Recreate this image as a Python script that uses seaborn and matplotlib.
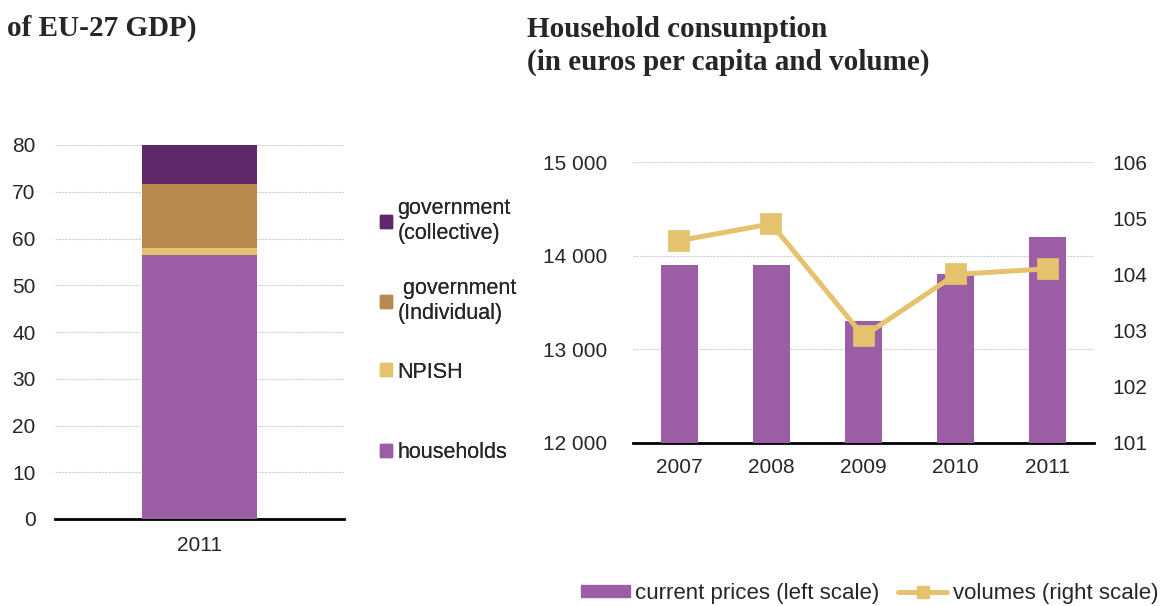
import numpy as np
import pandas as pd
import matplotlib.pyplot as plt
import seaborn as sns
from matplotlib.patches import Patch
from matplotlib.lines import Line2D
from matplotlib.ticker import FuncFormatter

sns.set_style('white')
plt.rcParams['font.family'] = ['Liberation Sans', 'DejaVu Sans']

# left chart: consumption as % of EU-27 GDP, 2011
stack_year = ['2011']
stack_labels = ['households', 'NPISH', ' government\n(Individual)', 'government\n(collective)']
stack_values = [56.5, 1.5, 13.7, 8.3]
stack_colors = ['#9B5EA5', '#E5C36E', '#B8894F', '#5F2868']

# right chart: household consumption
years = ['2007', '2008', '2009', '2010', '2011']
current_prices = [13900, 13900, 13300, 13800, 14200]
volumes = [104.6, 104.9, 102.9, 104.0, 104.1]

purple = '#9B5EA5'
gold = '#E5C36E'
grid_kw = dict(color='#cfcfcf', lw=0.8, linestyle=(0, (2, 1)))
W, H = 1165, 606

fig = plt.figure(figsize=(11.65, 6.06), dpi=100)

# ---- left stacked bar (cumulative totals drawn from the top down)
ax1 = fig.add_axes([55 / W, 1 - 519 / H, 289 / W, 374 / H])
tops = np.cumsum(stack_values)
for i in reversed(range(len(stack_values))):
    sns.barplot(x=stack_year, y=[tops[i]], color=stack_colors[i], width=0.4,
                saturation=1, linewidth=0, ax=ax1, zorder=3)
ax1.set_xlim(-0.5, 0.5)
ax1.set_ylim(0, 80)
ax1.set_yticks(range(0, 81, 10))
ax1.yaxis.grid(True, **grid_kw)
ax1.set_axisbelow(True)
ax1.set_xlabel('')
ax1.set_ylabel('')
for s in ['top', 'left', 'right']:
    ax1.spines[s].set_visible(False)
ax1.spines['bottom'].set_color('black')
ax1.spines['bottom'].set_linewidth(2)
ax1.tick_params(axis='y', length=0, pad=14, labelsize=15)
ax1.tick_params(axis='x', length=0, pad=12, labelsize=15)

# legend entries of the left chart, one block each
legend_y = {3: 221, 2: 301, 1: 372, 0: 453}
for i in [3, 2, 1, 0]:
    lg = fig.legend([Patch(color=stack_colors[i])], [stack_labels[i]],
                    loc='center left', bbox_to_anchor=(380 / W, 1 - legend_y[i] / H),
                    frameon=False, fontsize=15.5, handlelength=0.55, handleheight=0.55,
                    handletextpad=0.25, borderpad=0, borderaxespad=0)
    fig.add_artist(lg)

# ---- right chart: bars + volumes on twin axis
ax2 = fig.add_axes([633 / W, 1 - 443 / H, 461 / W, 281 / H])
sns.barplot(x=years, y=current_prices, color=purple, saturation=1, width=0.4,
            linewidth=0, ax=ax2, zorder=3)
ax2.set_ylim(12000, 15000)
ax2.set_yticks([12000, 13000, 14000, 15000])
ax2.yaxis.set_major_formatter(FuncFormatter(lambda v, p: f'{int(v):,}'.replace(',', ' ')))
ax2.yaxis.grid(True, **grid_kw)
ax2.set_axisbelow(True)
for s in ['top', 'left', 'right']:
    ax2.spines[s].set_visible(False)
ax2.spines['bottom'].set_color('black')
ax2.spines['bottom'].set_linewidth(2)
ax2.tick_params(axis='y', length=0, pad=18.5, labelsize=15)
ax2.tick_params(axis='x', length=0, pad=11, labelsize=15)

ax3 = ax2.twinx()
sns.pointplot(x=years, y=volumes, color=gold, markers='s', markersize=13,
              linewidth=3.6, ax=ax3)
ax3.set_ylim(101, 106)
ax3.set_yticks(range(101, 107))
ax3.set_ylabel('')
for s in ax3.spines.values():
    s.set_visible(False)
ax3.tick_params(axis='y', length=0, pad=13.5, labelsize=15)
ax2.set_xlim(-0.5, 4.5)

# bottom legend
handles = [Patch(color=purple),
           Line2D([], [], color=gold, lw=3.6, marker='s', markersize=9)]
fig.legend(handles, ['current prices (left scale)', 'volumes (right scale)'],
           ncol=2, loc='center right', bbox_to_anchor=(1.0, 1 - 593 / H),
           frameon=False, fontsize=16, handlelength=2.2, handleheight=0.45,
           handletextpad=0.25, columnspacing=0.85, borderpad=0, borderaxespad=0.3)

# titles
title_kw = dict(family=['Liberation Serif', 'DejaVu Serif'], weight='bold',
                fontsize=21, va='baseline')
fig.text(7 / W, 1 - 36 / H, 'of EU-27 GDP)', **title_kw)
fig.text(527 / W, 1 - 37 / H, 'Household consumption', **title_kw)
fig.text(527 / W, 1 - 70 / H, '(in euros per capita and volume)', **title_kw)

fig.savefig('out.png', dpi=100)
